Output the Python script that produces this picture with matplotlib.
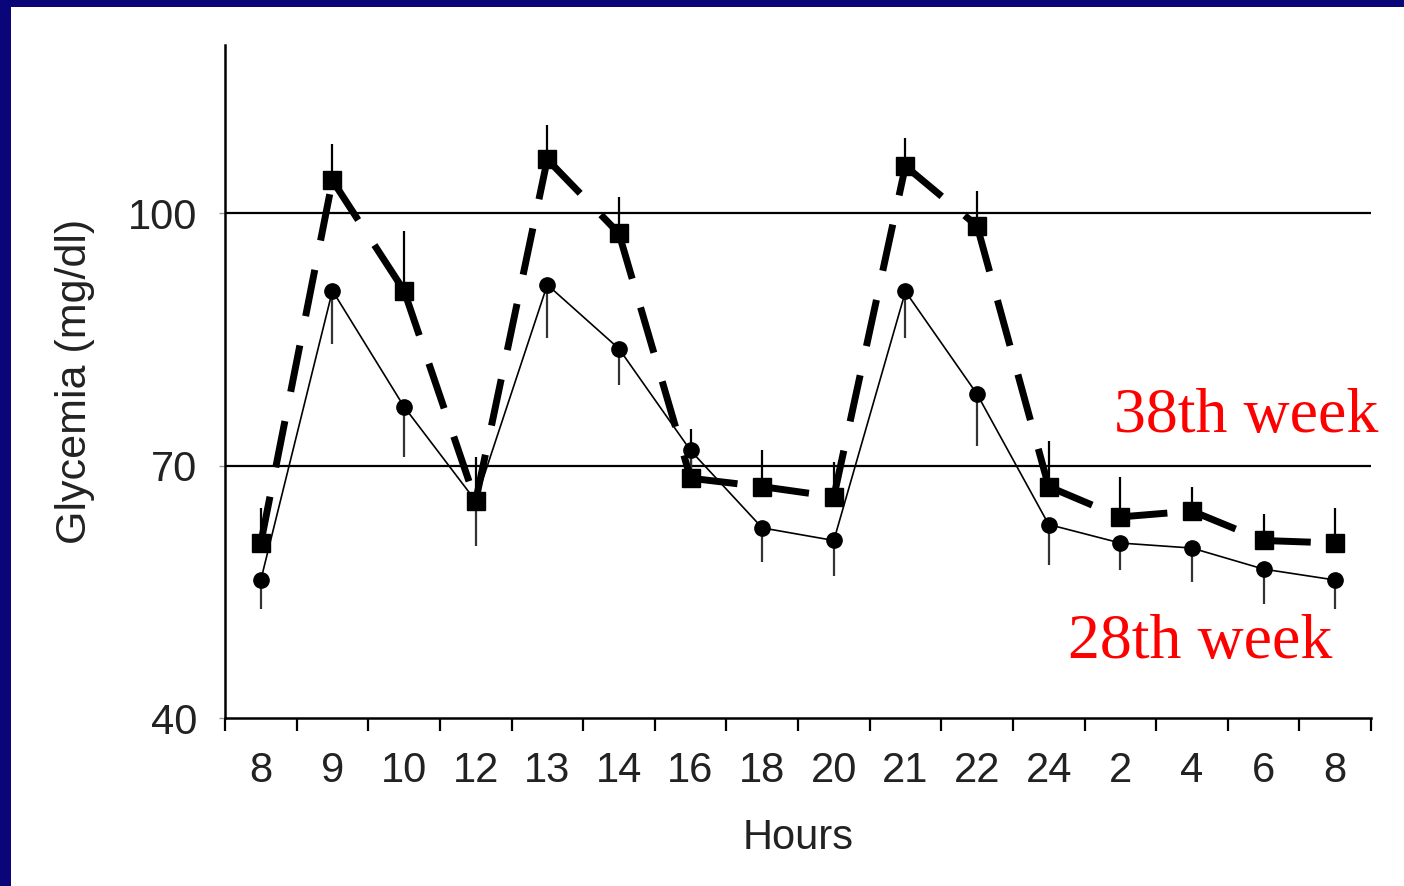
import matplotlib.pyplot as plt
from matplotlib.patches import Rectangle

# hour labels along the x axis (one day, 8h to 8h)
hours = ['8', '9', '10', '12', '13', '14', '16', '18', '20', '21', '22', '24', '2', '4', '6', '8']

# 38th week (squares, dashed) - mean and upper error
week38 = [60.8, 103.9, 90.8, 65.8, 106.4, 97.6, 68.5, 67.5, 66.3, 105.6, 98.5, 67.5, 63.9, 64.6, 61.1, 60.8]
week38_err = [4.2, 4.3, 7.1, 5.2, 4.1, 4.3, 5.8, 4.3, 4.1, 3.4, 4.2, 5.4, 4.8, 2.9, 3.1, 4.2]

# 28th week (circles, solid) - mean and lower error
week28 = [56.4, 90.8, 77.0, 65.8, 91.5, 83.9, 71.8, 62.6, 61.1, 90.7, 78.5, 63.0, 60.8, 60.2, 57.7, 56.4]
week28_err = [3.5, 6.4, 6.0, 5.3, 6.3, 4.3, 3.0, 4.1, 4.2, 5.5, 6.2, 4.8, 3.2, 4.0, 4.1, 3.5]

fig = plt.figure(figsize=(14.04, 8.86), dpi=100)
fig.patch.set_facecolor('#0a0578')
# white slide panel inside the navy frame
fig.patches.append(Rectangle((11 / 1404, 0), 1, 1 - 7 / 886, transform=fig.transFigure,
                             facecolor='white', edgecolor='none', zorder=-10))

ax = fig.add_axes([225 / 1404, 1 - 718 / 886, (1371 - 225) / 1404, (718 - 45) / 886])
ax.set_facecolor('none')
ax.set_zorder(1)

x = list(range(len(hours)))

# reference lines
for level in (70, 100):
    ax.axhline(level, color='black', lw=1.6, zorder=1)

# error bars
ax.vlines(x, week38, [m + e for m, e in zip(week38, week38_err)], color='black', lw=1.6, zorder=2)
ax.vlines(x, [m - e for m, e in zip(week28, week28_err)], week28, color='#333333', lw=1.6, zorder=2)

# 28th week line
ax.plot(x, week28, color='black', lw=1.2, marker='o', markersize=11, zorder=3)

# 38th week: dashes restart at each point, so draw segment by segment
for i in range(len(x) - 1):
    ax.plot(x[i:i + 2], week38[i:i + 2], color='black', lw=5, dashes=(6.8, 4.3),
            solid_capstyle='butt', dash_capstyle='butt', zorder=3)
ax.plot(x, week38, linestyle='none', marker='s', markersize=13.5, color='black', zorder=4)

ax.set_xlim(-0.5, len(hours) - 0.5)
ax.set_ylim(40, 120)

ax.set_xticks([i - 0.5 for i in range(len(hours) + 1)], minor=True)
ax.set_xticks(x)
ax.set_xticklabels(hours, fontsize=30, family='Liberation Sans', color='#222222')
ax.tick_params(axis='x', which='major', length=0, pad=24)
ax.tick_params(axis='x', which='minor', length=9, width=1.6, direction='out')

ax.set_yticks([40, 70, 100])
ax.set_yticklabels(['40', '70', '100'], fontsize=30, family='Liberation Sans', color='#222222')
ax.tick_params(axis='y', length=4, width=1, color='#999999', pad=16)

for side in ('top', 'right'):
    ax.spines[side].set_visible(False)
for side in ('left', 'bottom'):
    ax.spines[side].set_linewidth(1.8)

ax.set_xlabel('Hours', fontsize=30, family='Liberation Sans', color='#222222', labelpad=19)
ax.set_ylabel('Glycemia (mg/dl)', fontsize=31, family='Liberation Sans', color='#222222', labelpad=24)

fig.text(1378 / 1404, 1 - 432 / 886, '38th week', color='red', fontsize=46,
         family='Liberation Serif', ha='right', va='baseline', zorder=5)
fig.text(1068 / 1404, 1 - 658 / 886, '28th week', color='red', fontsize=46,
         family='Liberation Serif', ha='left', va='baseline', zorder=5)

fig.savefig('out.png', dpi=100, facecolor=fig.get_facecolor())
